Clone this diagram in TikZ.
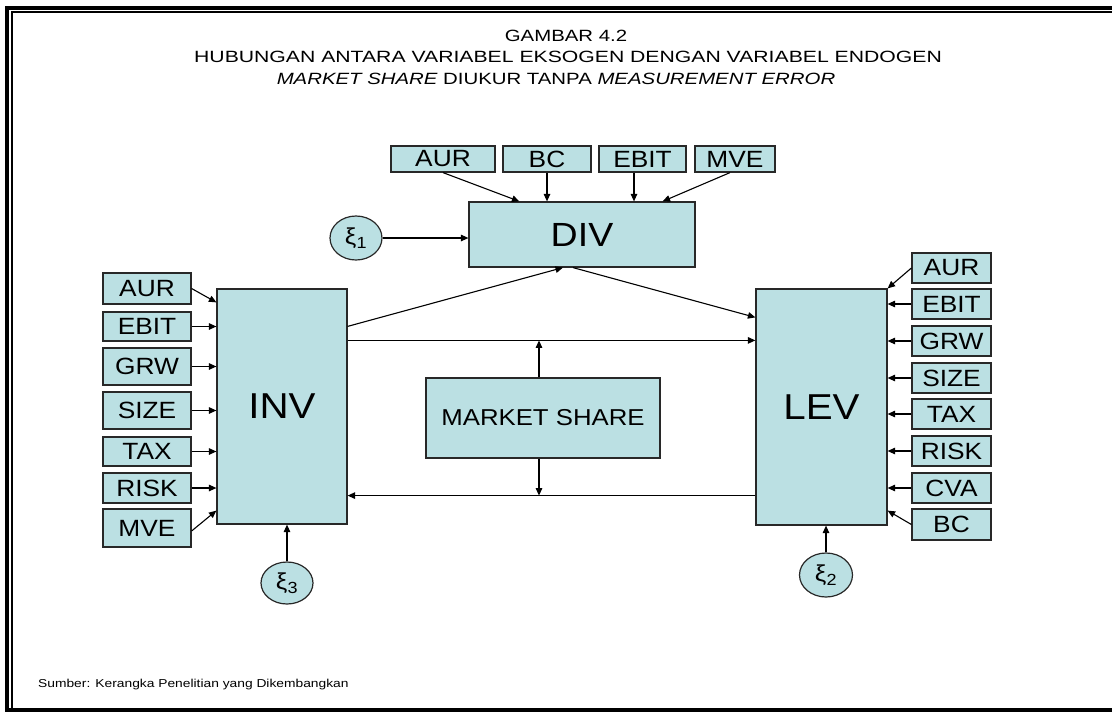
\documentclass[tikz,border=0pt]{standalone}
\usepackage{fontspec}
\setmainfont{Liberation Sans}
\newfontfamily\ttlfont{Liberation Sans}[FakeStretch=1.25]
\newfontfamily\srcfont{Liberation Sans}[FakeStretch=1.2]
\newfontfamily\bxfont{Liberation Sans}[FakeStretch=1.12]
\usetikzlibrary{arrows.meta,shapes.geometric}
\definecolor{boxblue}{RGB}{187,224,227}
\definecolor{edgegray}{RGB}{40,40,40}
\tikzset{
  vbox/.style={draw=edgegray, fill=boxblue, line width=1.2pt, inner sep=0pt, align=center, font=\bxfont\fontsize{23.5}{26}\selectfont},
  bigbox/.style={vbox, font=\bxfont\fontsize{36}{40}\selectfont},
  errell/.style={ellipse, draw=edgegray, fill=boxblue, line width=1.2pt, inner sep=0pt, font=\bxfont\fontsize{23}{25}\selectfont},
  arr/.style={-{Triangle[length=7.5pt,width=6.5pt]}, line width=1.1pt, draw=black},
  ttl/.style={font=\ttlfont\fontsize{16.3}{19}\selectfont, inner sep=0pt}
}
\begin{document}
\begin{tikzpicture}[x=1pt,y=-1pt]
\useasboundingbox (0,0) rectangle (1112,715);
% frame
\draw[line width=4pt] (7,708) -- (7,7.8) -- (1114,7.8);
\draw[line width=1.7pt] (11.8,708) -- (11.8,11.8) -- (1114,11.8);
\draw[line width=3.3pt] (5,710) -- (1114,710);
% title
\node[ttl] (t1) at (566,36) {GAMBAR 4.2};
\node[ttl] (t2) at (568,57) {\scalebox{1.04}[1]{HUBUNGAN ANTARA VARIABEL EKSOGEN DENGAN VARIABEL ENDOGEN}};
\node[ttl] (t3) at (556,79) {\itshape MARKET SHARE\upshape{} DIUKUR TANPA \itshape MEASUREMENT ERROR};
% top boxes
\node[vbox, minimum width=104pt, minimum height=26pt] (tAUR) at (443,159) {AUR};
\node[vbox, minimum width=88pt, minimum height=26pt] (tBC) at (547,159) {BC};
\node[vbox, minimum width=87pt, minimum height=26pt] (tEBIT) at (642.5,159) {EBIT};
\node[vbox, minimum width=80pt, minimum height=26pt] (tMVE) at (735,159) {MVE};
\node[vbox, minimum width=226pt, minimum height=65pt, font=\bxfont\fontsize{33.5}{36}\selectfont] (DIV) at (582,234.5) {DIV};
\node[errell, minimum width=52pt, minimum height=44pt] (xi1) at (356,238) {ξ\textsubscript{1}};
% INV and its inputs
\node[bigbox, minimum width=130pt, minimum height=235pt] (INV) at (282,406.5) {INV};
\node[vbox, minimum width=88pt, minimum height=31pt] (lAUR) at (147,288.5) {AUR};
\node[vbox, minimum width=88pt, minimum height=29pt] (lEBIT) at (147,326.5) {EBIT};
\node[vbox, minimum width=88pt, minimum height=37pt] (lGRW) at (147,366.5) {GRW};
\node[vbox, minimum width=88pt, minimum height=37pt] (lSIZE) at (147,410.5) {SIZE};
\node[vbox, minimum width=88pt, minimum height=29pt] (lTAX) at (147,451.5) {TAX};
\node[vbox, minimum width=88pt, minimum height=30pt] (lRISK) at (147,488) {RISK};
\node[vbox, minimum width=88pt, minimum height=38pt] (lMVE) at (147,528) {MVE};
\node[errell, minimum width=52pt, minimum height=42pt] (xi3) at (287,583) {ξ\textsubscript{3}};
% LEV and its inputs
\node[bigbox, minimum width=131pt, minimum height=236pt] (LEV) at (821.5,407) {LEV};
\node[vbox, minimum width=79pt, minimum height=30pt] (rAUR) at (951.5,268) {AUR};
\node[vbox, minimum width=79pt, minimum height=30pt] (rEBIT) at (951.5,304) {EBIT};
\node[vbox, minimum width=79pt, minimum height=30pt] (rGRW) at (951.5,341) {GRW};
\node[vbox, minimum width=79pt, minimum height=30pt] (rSIZE) at (951.5,378) {SIZE};
\node[vbox, minimum width=79pt, minimum height=30pt] (rTAX) at (951.5,414) {TAX};
\node[vbox, minimum width=79pt, minimum height=30pt] (rRISK) at (951.5,451) {RISK};
\node[vbox, minimum width=79pt, minimum height=30pt] (rCVA) at (951.5,488) {CVA};
\node[vbox, minimum width=79pt, minimum height=31pt] (rBC) at (951.5,524.5) {BC};
\node[errell, minimum width=53pt, minimum height=44pt] (xi2) at (826,575) {ξ\textsubscript{2}};
% market share
\node[vbox, minimum width=234pt, minimum height=80pt, font=\bxfont\fontsize{23}{26}\selectfont] (MS) at (543,418) {MARKET SHARE};
% source
\node[font=\srcfont\fontsize{11.5}{13}\selectfont, anchor=west, inner sep=0pt] (src) at (38,685) {Sumber: Kerangka Penelitian yang Dikembangkan};
% arrows into DIV
\draw[arr] (tAUR.south) -- ([xshift=51pt]DIV.north west);
\draw[arr] (tBC.south) -- (tBC.south |- DIV.north);
\draw[arr] ([xshift=-8.5pt]tEBIT.south) -- ([xshift=-8.5pt]tEBIT.south |- DIV.north);
\draw[arr] ([xshift=-5pt]tMVE.south) -- ([xshift=-33pt]DIV.north east);
\draw[arr] (xi1.east) -- (xi1.east -| DIV.west);
% arrows into INV
\draw[arr] (lAUR.east) -- ([yshift=-14pt]INV.north west);
\draw[arr] (lEBIT.east) -- (lEBIT.east -| INV.west);
\draw[arr] (lGRW.east) -- (lGRW.east -| INV.west);
\draw[arr] (lSIZE.east) -- (lSIZE.east -| INV.west);
\draw[arr] (lTAX.east) -- (lTAX.east -| INV.west);
\draw[arr] (lRISK.east) -- (lRISK.east -| INV.west);
\draw[arr] ([yshift=-3pt]lMVE.east) -- ([yshift=14pt]INV.south west);
\draw[arr] (xi3.north) -- (xi3.north |- INV.south);
% arrows into LEV
\draw[arr] (rAUR.west) -- (LEV.north east);
\draw[arr] (rEBIT.west) -- (rEBIT.west -| LEV.east);
\draw[arr] (rGRW.west) -- (rGRW.west -| LEV.east);
\draw[arr] (rSIZE.west) -- (rSIZE.west -| LEV.east);
\draw[arr] (rTAX.west) -- (rTAX.west -| LEV.east);
\draw[arr] (rRISK.west) -- (rRISK.west -| LEV.east);
\draw[arr] (rCVA.west) -- (rCVA.west -| LEV.east);
\draw[arr] (rBC.west) -- ([yshift=15pt]LEV.south east);
\draw[arr] (xi2.north) -- (xi2.north |- LEV.south);
% structural paths
\draw[arr] ([yshift=-38pt]INV.north east) -- ([xshift=-19pt]DIV.south);
\draw[arr] ([xshift=-9pt]DIV.south) -- ([yshift=-29pt]LEV.north west);
\coordinate (hA) at ([yshift=-52pt]INV.north east);
\coordinate (hB) at ([yshift=30pt]LEV.south west);
\draw[arr] (hA) -- (hA -| LEV.west);
\draw[arr] (hB) -- (hB -| INV.east);
\draw[arr] ([xshift=-4pt]MS.north) -- ([xshift=-4pt]MS.north |- hA);
\draw[arr] ([xshift=-4pt]MS.south) -- ([xshift=-4pt]MS.south |- hB);
\end{tikzpicture}
\end{document}
